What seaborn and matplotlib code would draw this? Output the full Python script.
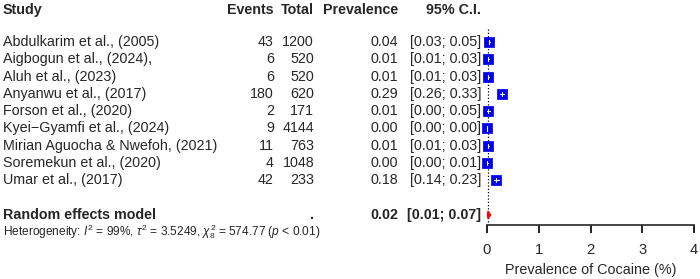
import numpy as np
import pandas as pd
import matplotlib.pyplot as plt
import seaborn as sns

# ===== Data =====
studies = ["Abdulkarim et al., (2005)", "Aigbogun et al., (2024),", "Aluh et al., (2023)",
           "Anyanwu et al., (2017)", "Forson et al., (2020)", "Kyei\u2212Gyamfi et al., (2024)",
           "Mirian Aguocha & Nwefoh, (2021)", "Soremekun et al., (2020)", "Umar et al., (2017)"]
events = [43, 6, 6, 180, 2, 9, 11, 4, 42]
totals = [1200, 520, 520, 620, 171, 4144, 763, 1048, 233]
prevalence = [0.04, 0.01, 0.01, 0.29, 0.01, 0.00, 0.01, 0.00, 0.18]
ci_low = [0.03, 0.01, 0.01, 0.26, 0.00, 0.00, 0.01, 0.00, 0.14]
ci_high = [0.05, 0.03, 0.03, 0.33, 0.05, 0.00, 0.03, 0.01, 0.23]
pooled = 0.02
pooled_ci = (0.01, 0.07)
ticks = [0, 1, 2, 3, 4]

df = pd.DataFrame({"study": studies, "events": events, "total": totals,
                   "prev": prevalence, "lo": ci_low, "hi": ci_high})
df["row"] = np.arange(len(df))

sns.set_style("white")
plt.rcParams["font.family"] = ["Liberation Sans", "DejaVu Sans"]
plt.rcParams["mathtext.fontset"] = "custom"
plt.rcParams["mathtext.rm"] = "Liberation Sans"
plt.rcParams["mathtext.it"] = "Liberation Sans:italic"

fig = plt.figure(figsize=(7, 2.79), dpi=100)
W, H = 700, 279
ax = fig.add_axes([487 / W, (H - 225) / H, (694 - 487) / W, 225 / H])
ax.set_xlim(0, 4)
ax.set_ylim(10.58, -2.43)

# reference line at pooled estimate
ax.plot([pooled, pooled], [-0.75, 10.4], color="black", ls=(0, (1, 1.6)), lw=0.9, clip_on=False)

# study squares with CI
sns.scatterplot(data=df, x="prev", y="row", marker="s", s=42, color="#0000ee",
                edgecolor="#0000ee", ax=ax, clip_on=False, zorder=3, legend=False)
for _, r in df.iterrows():
    ax.plot([r.lo, r.hi], [r.row, r.row], color="white", lw=0.8, clip_on=False, zorder=4)
    ax.plot([r.prev, r.prev], [r.row - 0.12, r.row + 0.12], color="white", lw=0.8,
            clip_on=False, zorder=4)

# pooled diamond
ax.fill([pooled_ci[0], pooled, pooled_ci[1], pooled],
        [10, 10 - 0.22, 10, 10 + 0.22], color="red", clip_on=False, zorder=3)

ax.set_xticks(ticks)
ax.set_xticklabels([str(t) for t in ticks], fontsize=10.6)
ax.set_yticks([])
for s in ["left", "right", "top"]:
    ax.spines[s].set_visible(False)
ax.spines["bottom"].set_linewidth(1.2)
ax.tick_params(axis="x", length=6, width=1.2, pad=7, bottom=True, color="black")
ax.set_xlabel("Prevalence of Cocaine (%)", fontsize=10.4, labelpad=4)
ax.set_ylabel("")

# text columns
def fx(px):
    return (px - 487) / 207 * 4

fs = 10.3
hy = -1.85
ax.text(fx(3), hy, "Study", ha="left", va="center", fontsize=fs, fontweight="bold", clip_on=False)
ax.text(fx(274), hy, "Events", ha="right", va="center", fontsize=fs, fontweight="bold", clip_on=False)
ax.text(fx(314), hy, "Total", ha="right", va="center", fontsize=fs, fontweight="bold", clip_on=False)
ax.text(fx(398), hy, "Prevalence", ha="right", va="center", fontsize=fs, fontweight="bold", clip_on=False)
ax.text(fx(481), hy, "95% C.I.", ha="right", va="center", fontsize=fs, fontweight="bold", clip_on=False)

for _, r in df.iterrows():
    ax.text(fx(3), r.row, r.study, ha="left", va="center", fontsize=fs, clip_on=False)
    ax.text(fx(274), r.row, str(r.events), ha="right", va="center", fontsize=fs, clip_on=False)
    ax.text(fx(314), r.row, str(r.total), ha="right", va="center", fontsize=fs, clip_on=False)
    ax.text(fx(398), r.row, f"{r.prev:.2f}", ha="right", va="center", fontsize=fs, clip_on=False)
    ax.text(fx(481), r.row, f"[{r.lo:.2f}; {r.hi:.2f}]", ha="right", va="center",
            fontsize=fs, clip_on=False)

ax.text(fx(3), 10, "Random effects model", ha="left", va="center", fontsize=fs,
        fontweight="bold", clip_on=False)
ax.text(fx(314), 10, ".", ha="right", va="center", fontsize=fs, fontweight="bold", clip_on=False)
ax.text(fx(398), 10, f"{pooled:.2f}", ha="right", va="center", fontsize=fs,
        fontweight="bold", clip_on=False)
ax.text(fx(481), 10, f"[{pooled_ci[0]:.2f}; {pooled_ci[1]:.2f}]", ha="right", va="center",
        fontsize=fs, fontweight="bold", clip_on=False)
ax.text(fx(3), 10.98, r"Heterogeneity: $I^2$ = 99%, $\tau^2$ = 3.5249, $\chi^2_8$ = 574.77 ($p$ < 0.01)",
        ha="left", va="center", fontsize=8.6, clip_on=False)

fig.savefig("out.png", dpi=100)
